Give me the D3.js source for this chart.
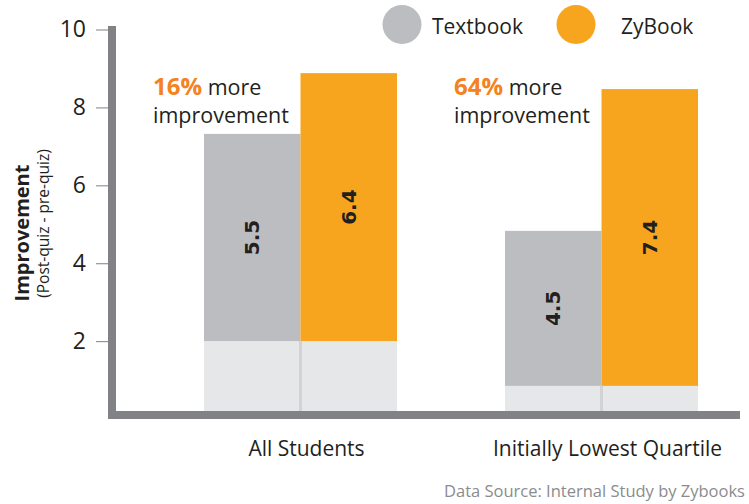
<!DOCTYPE html>
<html>
<head>
<meta charset="utf-8">
<script src="https://cdn.jsdelivr.net/npm/d3@7"></script>
<style>
  html, body { margin: 0; padding: 0; background: #fff; }
  svg { display: block; font-family: "Open Sans", sans-serif; }
</style>
</head>
<body>
<svg id="chart" width="749" height="504"></svg>
<script>
// ---- data ----
const categories = ["All Students", "Initially Lowest Quartile"];
const series = ["Textbook", "ZyBook"];
// pre-quiz base level (light segment) per category, per series
const preQuiz = {
  Textbook: [2.0, 0.85],
  ZyBook:   [2.0, 0.85]
};
// post-quiz level (top of bar) per category, per series
const postQuiz = {
  Textbook: [7.32, 4.83],
  ZyBook:   [8.88, 8.47]
};
// improvement labels printed in the bars
const improvementLabels = {
  Textbook: ["5.5", "4.5"],
  ZyBook:   ["6.4", "7.4"]
};
const advantageLabels = ["16%", "64%"];
const yTicks = [2, 4, 6, 8, 10];

// ---- styles ----
const colors = { Textbook: "#bcbdc0", ZyBook: "#f7a51e" };
const baseColor = "#e6e7e8";
const axisColor = "#808285";
const textColor = "#231f20";

const svg = d3.select("#chart");

const y = d3.scaleLinear().domain([0, 10]).range([419, 29.5]);
const x = d3.scaleBand().domain(categories).range([204, 698]).paddingInner(0.3588).paddingOuter(0);
const xs = d3.scaleBand().domain(series).range([0, x.bandwidth()]).padding(0);

// bars
const groups = svg.selectAll("g.grp").data(categories).join("g")
  .attr("class", "grp")
  .attr("transform", d => `translate(${x(d)},0)`);

series.forEach(s => {
  groups.append("rect")
    .attr("x", xs(s))
    .attr("width", xs.bandwidth())
    .attr("y", (d, i) => y(preQuiz[s][i]))
    .attr("height", (d, i) => y(0) - y(preQuiz[s][i]))
    .attr("fill", baseColor);
  groups.append("rect")
    .attr("x", xs(s))
    .attr("width", xs.bandwidth())
    .attr("y", (d, i) => y(postQuiz[s][i]))
    .attr("height", (d, i) => y(preQuiz[s][i]) - y(postQuiz[s][i]))
    .attr("fill", colors[s]);
  groups.append("text")
    .attr("transform", (d, i) => {
      const cx = xs(s) + xs.bandwidth() / 2;
      const cy = (y(postQuiz[s][i]) + y(preQuiz[s][i])) / 2;
      return `translate(${cx},${cy}) rotate(-90)`;
    })
    .attr("text-anchor", "middle")
    .attr("dominant-baseline", "central")
    .style("font-family", "'DejaVu Sans', sans-serif")
    .style("font-weight", "bold")
    .style("font-size", "20px")
    .attr("fill", textColor)
    .text((d, i) => improvementLabels[s][i]);
});

// divider between bases
groups.append("line")
  .attr("x1", xs("ZyBook")).attr("x2", xs("ZyBook"))
  .attr("y1", (d, i) => y(Math.max(preQuiz.Textbook[i], preQuiz.ZyBook[i])))
  .attr("y2", y(0))
  .attr("stroke", "#d1d3d4").attr("stroke-width", 3);

// annotations
const ann = groups.append("text")
  .attr("x", -51)
  .attr("y", 95)
  .style("font-size", "21.5px")
  .attr("fill", textColor);
ann.append("tspan")
  .style("font-weight", "bold")
  .style("font-size", "24px")
  .attr("fill", "#f58220")
  .text((d, i) => advantageLabels[i]);
ann.append("tspan").text(" more");
groups.append("text")
  .attr("x", -51)
  .attr("y", 122.5)
  .style("font-size", "21.5px")
  .attr("fill", textColor)
  .text("improvement");

// category labels
groups.append("text")
  .attr("x", x.bandwidth() / 2 + 6)
  .attr("y", 456)
  .attr("text-anchor", "middle")
  .style("font-size", "21px")
  .attr("fill", textColor)
  .text(d => d);

// y axis ticks + labels
const yAxis = d3.axisLeft(y).tickValues(yTicks).tickSize(12).tickPadding(10).tickFormat(d3.format("d"));
const ga = svg.append("g").attr("transform", "translate(108,0)").call(yAxis);
ga.select(".domain").remove();
ga.selectAll(".tick line").attr("stroke", "#939598").attr("stroke-width", 1.2);
ga.selectAll(".tick text")
  .style("font-family", "'Open Sans', sans-serif")
  .style("font-size", "23px")
  .attr("fill", textColor);

// axis lines
svg.append("line")
  .attr("x1", 112).attr("x2", 112)
  .attr("y1", y(10) - 3.5).attr("y2", y(0))
  .attr("stroke", axisColor).attr("stroke-width", 8);
svg.append("line")
  .attr("x1", 108).attr("x2", 740)
  .attr("y1", y(0) - 4).attr("y2", y(0) - 4)
  .attr("stroke", axisColor).attr("stroke-width", 8);

// y title
svg.append("text")
  .attr("transform", "translate(29,233) rotate(-90)")
  .attr("text-anchor", "middle")
  .style("font-weight", "bold")
  .style("font-size", "20px")
  .attr("fill", textColor)
  .text("Improvement");
svg.append("text")
  .attr("transform", "translate(48.5,223.5) rotate(-90)")
  .attr("text-anchor", "middle")
  .style("font-size", "15.5px")
  .attr("fill", textColor)
  .text("(Post-quiz - pre-quiz)");

// legend
const legendPos = { Textbook: [402, 432], ZyBook: [576, 621] };
series.forEach(s => {
  svg.append("circle")
    .attr("cx", legendPos[s][0]).attr("cy", 24.5).attr("r", 19.5)
    .attr("fill", colors[s]);
  svg.append("text")
    .attr("x", legendPos[s][1]).attr("y", 33.5)
    .style("font-size", "21px")
    .attr("fill", textColor)
    .text(s);
});

// source
svg.append("text")
  .attr("x", 745).attr("y", 497)
  .attr("text-anchor", "end")
  .style("font-size", "16.5px")
  .attr("fill", "#8a8c8e")
  .text("Data Source: Internal Study by Zybooks");
</script>
</body>
</html>
